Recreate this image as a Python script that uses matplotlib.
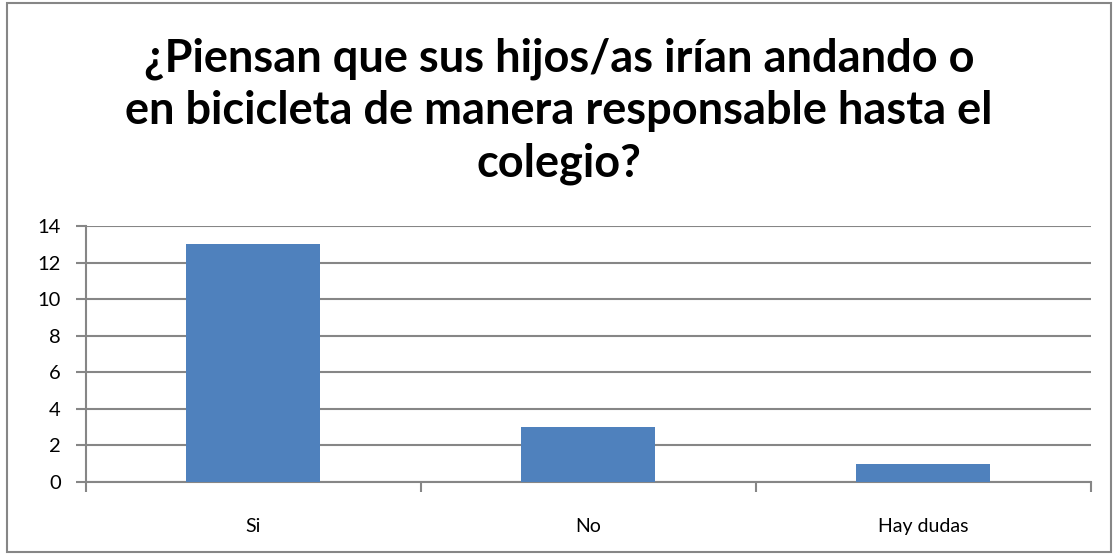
import numpy as np
import matplotlib.pyplot as plt
from matplotlib.patches import Rectangle

categories = ['Si', 'No', 'Hay dudas']
values = [13, 3, 1]
title = '¿Piensan que sus hijos/as irían andando o\nen bicicleta de manera responsable hasta el\ncolegio?'

plt.rcParams['font.family'] = ['Lato', 'DejaVu Sans']

fig = plt.figure(figsize=(11.18, 5.55), dpi=100)
ax = fig.add_axes([0.0769, 0.1315, 0.8989, 0.4613])

x = np.arange(len(categories))
ax.bar(x, values, width=0.4, color='#4F81BD', zorder=3)

ax.set_xlim(-0.5, len(categories) - 0.5)
ax.set_ylim(0, 14)
ax.set_yticks(range(0, 15, 2))
ax.yaxis.grid(True, color='#868686', linewidth=1.5, zorder=0)

ax.set_xticks(x)
ax.set_xticklabels(categories, fontsize=14)
ax.tick_params(axis='x', length=0, pad=26)
ax.set_xticks(np.arange(-0.5, len(categories), 1), minor=True)
ax.tick_params(axis='x', which='minor', length=7, width=1.5, color='#868686')
ax.tick_params(axis='y', length=7, width=1.5, color='#868686', labelsize=14.5, pad=11)

for s in ['top', 'right']:
    ax.spines[s].set_visible(False)
for s in ['left', 'bottom']:
    ax.spines[s].set_color('#868686')
    ax.spines[s].set_linewidth(1.5)

fig.text(0.5, 0.80, title, ha='center', va='center', fontsize=32.5,
         fontweight='bold', linespacing=1.3)

fig.patches.append(Rectangle((0.006, 0.005), 0.988, 0.99, transform=fig.transFigure,
                             fill=False, edgecolor='#868686', linewidth=1.5))

fig.savefig('out.png', dpi=100)
